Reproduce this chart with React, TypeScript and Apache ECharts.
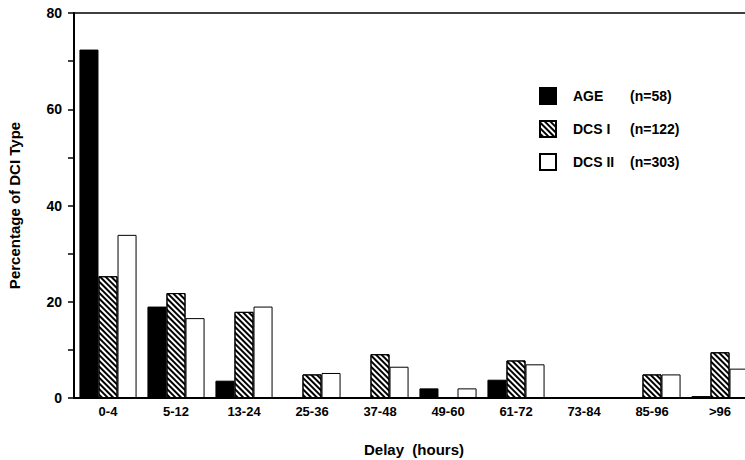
import React, { useEffect, useRef } from "react";
import * as echarts from "echarts";

const categories = ["0-4", "5-12", "13-24", "25-36", "37-48", "49-60", "61-72", "73-84", "85-96", ">96"];
const ageValues = [72.4, 19.0, 3.6, 0, 0, 2.0, 3.8, 0, 0, 0.4];
const dcs1Values = [25.3, 21.8, 17.9, 4.9, 9.1, 0, 7.8, 0, 4.9, 9.5];
const dcs2Values = [33.9, 16.6, 19.0, 5.2, 6.5, 2.0, 7.0, 0, 4.9, 6.1];
const seriesNames = ["AGE", "DCS I", "DCS II"];
const seriesCounts = ["(n=58)", "(n=122)", "(n=303)"];
const yTickLabels = [0, 20, 40, 60, 80];

const FONT = "Liberation Sans";

export default function App() {
  const ref = useRef<HTMLDivElement>(null);
  useEffect(() => {
    if (!ref.current) return;
    const chart = echarts.init(ref.current, null, { renderer: "svg" });
    const border = { borderColor: "#000", borderWidth: 1 };
    chart.setOption({
      animation: false,
      backgroundColor: "#fff",
      grid: {
        left: 74,
        top: 13,
        width: 680,
        height: 385,
        show: true,
        borderColor: "#000",
        borderWidth: 1.5,
        outerBoundsMode: "none",
        containLabel: false,
      },
      legend: {
        orient: "vertical",
        left: 539,
        top: 87,
        padding: 0,
        itemWidth: 16,
        itemHeight: 16,
        itemGap: 15,
        icon: "rect",
        data: seriesNames,
        formatter: (name: string) => {
          const i = seriesNames.indexOf(name);
          return `{a|${name}}{b|${seriesCounts[i]}}`;
        },
        textStyle: {
          fontFamily: FONT,
          fontWeight: "bold",
          fontSize: 14,
          color: "#000",
          lineHeight: 16,
          rich: {
            a: { width: 57, padding: [0, 0, 0, 12], fontFamily: FONT, fontWeight: "bold", fontSize: 14, lineHeight: 16, color: "#000" },
            b: { fontFamily: FONT, fontWeight: "bold", fontSize: 14, lineHeight: 16, color: "#000" },
          },
        },
      },
      xAxis: {
        type: "category",
        data: categories,
        name: "Delay  (hours)",
        nameLocation: "middle",
        nameGap: 44,
        nameTextStyle: { fontFamily: FONT, fontWeight: "bold", fontSize: 15, color: "#000" },
        axisLine: { lineStyle: { color: "#000", width: 2 } },
        axisTick: { alignWithLabel: true, length: 6, lineStyle: { color: "#000", width: 1.5 } },
        axisLabel: { fontFamily: FONT, fontWeight: "bold", fontSize: 13, color: "#000", margin: 7 },
      },
      yAxis: {
        type: "value",
        min: 0,
        max: 80,
        interval: 10,
        name: "Percentage of DCI Type",
        nameLocation: "middle",
        nameRotate: 90,
        nameGap: 52,
        nameTextStyle: { fontFamily: FONT, fontWeight: "bold", fontSize: 15, color: "#000" },
        axisLine: { show: true, lineStyle: { color: "#000", width: 2 } },
        axisTick: { show: true, length: 6, lineStyle: { color: "#000", width: 1.5 } },
        splitLine: { show: false },
        axisLabel: {
          fontFamily: FONT,
          fontWeight: "bold",
          fontSize: 14,
          color: "#000",
          margin: 12,
          formatter: (v: number) => (yTickLabels.includes(v) ? String(v) : ""),
        },
      },
      series: [
        {
          name: seriesNames[0],
          type: "bar",
          data: ageValues,
          barGap: "0%",
          barCategoryGap: "16%",
          itemStyle: { color: "#000", ...border },
        },
        {
          name: seriesNames[1],
          type: "bar",
          data: dcs1Values,
          barGap: "0%",
          barCategoryGap: "16%",
          itemStyle: {
            color: "#fff",
            ...border,
            decal: {
              symbol: "rect",
              symbolSize: 1,
              color: "#000",
              dashArrayX: [1, 0],
              dashArrayY: [2, 2],
              rotation: Math.PI / 4,
            },
          },
        },
        {
          name: seriesNames[2],
          type: "bar",
          data: dcs2Values,
          barGap: "0%",
          barCategoryGap: "16%",
          itemStyle: { color: "#fff", ...border },
        },
      ],
    });
    return () => chart.dispose();
  }, []);
  return <div ref={ref} style={{ width: 745, height: 460, position: "absolute", left: 0, top: 0 }} />;
}
